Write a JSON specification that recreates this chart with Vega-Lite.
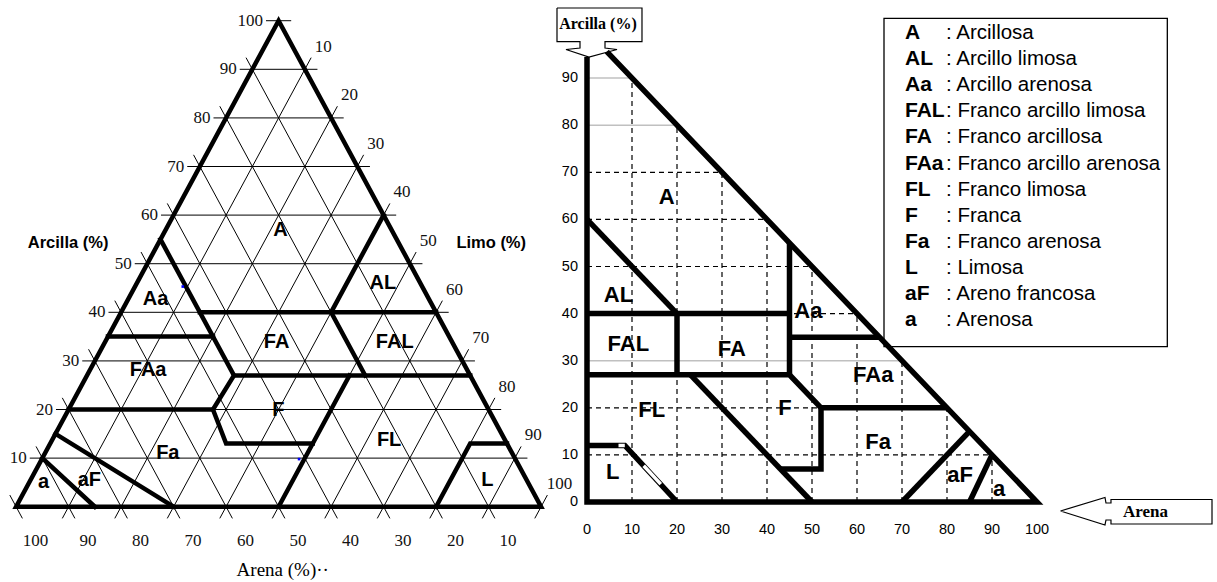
{
  "$schema": "https://vega.github.io/schema/vega-lite/v6.json",
  "width": 1217,
  "height": 582,
  "autosize": {"type": "fit", "contains": "padding"},
  "padding": 0,
  "background": "#ffffff",
  "config": {"view": {"stroke": null}},
  "datasets": {
    "tgrid": [
      {"s1": 92.4, "c1": 10, "s2": -2.4, "c2": 10},
      {"s1": 82.4, "c1": 20, "s2": -2.4, "c2": 20},
      {"s1": 72.4, "c1": 30, "s2": -2.4, "c2": 30},
      {"s1": 62.4, "c1": 40, "s2": -2.4, "c2": 40},
      {"s1": 52.4, "c1": 50, "s2": -2.4, "c2": 50},
      {"s1": 42.4, "c1": 60, "s2": -2.4, "c2": 60},
      {"s1": 32.4, "c1": 70, "s2": -2.4, "c2": 70},
      {"s1": 22.4, "c1": 80, "s2": -2.4, "c2": 80},
      {"s1": 12.4, "c1": 90, "s2": -2.4, "c2": 90},
      {"s1": 2.4, "c1": 100, "s2": -2.4, "c2": 100},
      {"s1": 10, "c1": -2.4, "s2": 10, "c2": 92.4},
      {"s1": 20, "c1": -2.4, "s2": 20, "c2": 82.4},
      {"s1": 30, "c1": -2.4, "s2": 30, "c2": 72.4},
      {"s1": 40, "c1": -2.4, "s2": 40, "c2": 62.4},
      {"s1": 50, "c1": -2.4, "s2": 50, "c2": 52.4},
      {"s1": 60, "c1": -2.4, "s2": 60, "c2": 42.4},
      {"s1": 70, "c1": -2.4, "s2": 70, "c2": 32.4},
      {"s1": 80, "c1": -2.4, "s2": 80, "c2": 22.4},
      {"s1": 90, "c1": -2.4, "s2": 90, "c2": 12.4},
      {"s1": 100, "c1": -2.4, "s2": 100, "c2": 2.4},
      {"s1": 92.4, "c1": -2.4, "s2": -2.4, "c2": 92.4},
      {"s1": 82.4, "c1": -2.4, "s2": -2.4, "c2": 82.4},
      {"s1": 72.4, "c1": -2.4, "s2": -2.4, "c2": 72.4},
      {"s1": 62.4, "c1": -2.4, "s2": -2.4, "c2": 62.4},
      {"s1": 52.4, "c1": -2.4, "s2": -2.4, "c2": 52.4},
      {"s1": 42.4, "c1": -2.4, "s2": -2.4, "c2": 42.4},
      {"s1": 32.4, "c1": -2.4, "s2": -2.4, "c2": 32.4},
      {"s1": 22.4, "c1": -2.4, "s2": -2.4, "c2": 22.4},
      {"s1": 12.4, "c1": -2.4, "s2": -2.4, "c2": 12.4},
      {"s1": 2.4, "c1": -2.4, "s2": -2.4, "c2": 2.4}
    ],
    "tthick": [
      {"p": "out", "o": 0, "s": 50, "c": 0},
      {"p": "out", "o": 1, "s": 0, "c": 0},
      {"p": "out", "o": 2, "s": 0, "c": 100},
      {"p": "out", "o": 3, "s": 100, "c": 0},
      {"p": "out", "o": 4, "s": 50, "c": 0},
      {"p": "b2", "o": 0, "s": 45, "c": 55},
      {"p": "b2", "o": 1, "s": 45, "c": 27},
      {"p": "b2", "o": 2, "s": 52.5, "c": 20},
      {"p": "b2", "o": 3, "s": 53.5, "c": 13},
      {"p": "b2", "o": 4, "s": 37, "c": 13},
      {"p": "b3", "o": 0, "s": 45, "c": 40},
      {"p": "b3", "o": 1, "s": 0, "c": 40},
      {"p": "b4", "o": 0, "s": 0, "c": 60},
      {"p": "b4", "o": 1, "s": 20, "c": 40},
      {"p": "b4", "o": 2, "s": 20, "c": 27},
      {"p": "b5", "o": 0, "s": 45, "c": 27},
      {"p": "b5", "o": 1, "s": 0, "c": 27},
      {"p": "b6", "o": 0, "s": 65, "c": 35},
      {"p": "b6", "o": 1, "s": 45, "c": 35},
      {"p": "b7", "o": 0, "s": 80, "c": 20},
      {"p": "b7", "o": 1, "s": 52.5, "c": 20},
      {"p": "b8", "o": 0, "s": 23, "c": 27},
      {"p": "b8", "o": 1, "s": 50, "c": 0},
      {"p": "b9", "o": 0, "s": 20, "c": 0},
      {"p": "b9", "o": 1, "s": 7, "c": 13},
      {"p": "b9", "o": 2, "s": 0, "c": 13},
      {"p": "b10", "o": 0, "s": 85, "c": 15},
      {"p": "b10", "o": 1, "s": 70, "c": 0},
      {"p": "b11", "o": 0, "s": 90, "c": 10},
      {"p": "b11", "o": 1, "s": 85, "c": 0}
    ],
    "tlab": [
      {"t": "A", "s": 21.2, "c": 56.9},
      {"t": "AL", "s": 7.1, "c": 46.1},
      {"t": "Aa", "s": 52.1, "c": 42.7},
      {"t": "FA", "s": 33.4, "c": 33.95},
      {"t": "FAL", "s": 10.9, "c": 33.95},
      {"t": "FAa", "s": 60.8, "c": 28.1},
      {"t": "F", "s": 40.1, "c": 19.9},
      {"t": "FL", "s": 22.1, "c": 13.7},
      {"t": "Fa", "s": 65.6, "c": 11.0},
      {"t": "L", "s": 7.5, "c": 5.5},
      {"t": "a", "s": 92.2, "c": 5.1},
      {"t": "aF", "s": 83.3, "c": 5.5}
    ],
    "tticks": [
      {"a": "c", "k": 10, "s": 92.4, "c": 10},
      {"a": "c", "k": 20, "s": 82.4, "c": 20},
      {"a": "c", "k": 30, "s": 72.4, "c": 30},
      {"a": "c", "k": 40, "s": 62.4, "c": 40},
      {"a": "c", "k": 50, "s": 52.4, "c": 50},
      {"a": "c", "k": 60, "s": 42.4, "c": 60},
      {"a": "c", "k": 70, "s": 32.4, "c": 70},
      {"a": "c", "k": 80, "s": 22.4, "c": 80},
      {"a": "c", "k": 90, "s": 12.4, "c": 90},
      {"a": "c", "k": 100, "s": 2.4, "c": 100},
      {"a": "s", "k": 10, "s": 10, "c": -2.4},
      {"a": "s", "k": 20, "s": 20, "c": -2.4},
      {"a": "s", "k": 30, "s": 30, "c": -2.4},
      {"a": "s", "k": 40, "s": 40, "c": -2.4},
      {"a": "s", "k": 50, "s": 50, "c": -2.4},
      {"a": "s", "k": 60, "s": 60, "c": -2.4},
      {"a": "s", "k": 70, "s": 70, "c": -2.4},
      {"a": "s", "k": 80, "s": 80, "c": -2.4},
      {"a": "s", "k": 90, "s": 90, "c": -2.4},
      {"a": "s", "k": 100, "s": 100, "c": -2.4},
      {"a": "t", "k": 10, "s": -2.4, "c": 92.4},
      {"a": "t", "k": 20, "s": -2.4, "c": 82.4},
      {"a": "t", "k": 30, "s": -2.4, "c": 72.4},
      {"a": "t", "k": 40, "s": -2.4, "c": 62.4},
      {"a": "t", "k": 50, "s": -2.4, "c": 52.4},
      {"a": "t", "k": 60, "s": -2.4, "c": 42.4},
      {"a": "t", "k": 70, "s": -2.4, "c": 32.4},
      {"a": "t", "k": 80, "s": -2.4, "c": 22.4},
      {"a": "t", "k": 90, "s": -2.4, "c": 12.4},
      {"a": "t", "k": 100, "s": -2.4, "c": 2.4}
    ],
    "ttitles": [
      {"t": "Arcilla (%)", "tx": 9.9, "ty": 54.3},
      {"t": "Limo (%)", "tx": 90.5, "ty": 54.3}
    ],
    "tarena": [
      {"t": "Arena (%)··", "tx": 42.0, "ty": -13.0}
    ],
    "tdots": [
      {"s": 41.2, "c": 9.8},
      {"s": 45.6, "c": 45.3}
    ],
    "rgrid": [
      {"k": "d", "x1": 10, "y1": 0, "x2": 10, "y2": 90},
      {"k": "d", "x1": 20, "y1": 0, "x2": 20, "y2": 80},
      {"k": "d", "x1": 30, "y1": 0, "x2": 30, "y2": 70},
      {"k": "d", "x1": 40, "y1": 0, "x2": 40, "y2": 60},
      {"k": "d", "x1": 50, "y1": 0, "x2": 50, "y2": 50},
      {"k": "d", "x1": 60, "y1": 0, "x2": 60, "y2": 40},
      {"k": "d", "x1": 70, "y1": 0, "x2": 70, "y2": 30},
      {"k": "d", "x1": 80, "y1": 0, "x2": 80, "y2": 20},
      {"k": "d", "x1": 90, "y1": 0, "x2": 90, "y2": 10},
      {"k": "d", "x1": 0, "y1": 10, "x2": 90, "y2": 10},
      {"k": "d", "x1": 0, "y1": 20, "x2": 80, "y2": 20},
      {"k": "d", "x1": 0, "y1": 40, "x2": 60, "y2": 40},
      {"k": "d", "x1": 0, "y1": 50, "x2": 50, "y2": 50},
      {"k": "d", "x1": 0, "y1": 60, "x2": 40, "y2": 60},
      {"k": "d", "x1": 0, "y1": 70, "x2": 30, "y2": 70},
      {"k": "g", "x1": 0, "y1": 30, "x2": 70, "y2": 30},
      {"k": "g", "x1": 0, "y1": 80, "x2": 20, "y2": 80},
      {"k": "g", "x1": 0, "y1": 90, "x2": 10, "y2": 90}
    ],
    "rthick": [
      {"p": "out", "o": 0, "x": 0, "y": 94.5},
      {"p": "out", "o": 1, "x": 0, "y": 0},
      {"p": "out", "o": 2, "x": 100, "y": 0},
      {"p": "out", "o": 3, "x": 4.4, "y": 95.6},
      {"p": "p2", "o": 0, "x": 0, "y": 60},
      {"p": "p2", "o": 1, "x": 20, "y": 40},
      {"p": "p3", "o": 0, "x": 0, "y": 40},
      {"p": "p3", "o": 1, "x": 45, "y": 40},
      {"p": "p4", "o": 0, "x": 20, "y": 40},
      {"p": "p4", "o": 1, "x": 20, "y": 27},
      {"p": "p5", "o": 0, "x": 0, "y": 27},
      {"p": "p5", "o": 1, "x": 45, "y": 27},
      {"p": "p5", "o": 2, "x": 52, "y": 20},
      {"p": "p5", "o": 3, "x": 80, "y": 20},
      {"p": "p6", "o": 0, "x": 45, "y": 55},
      {"p": "p6", "o": 1, "x": 45, "y": 27},
      {"p": "p7", "o": 0, "x": 52, "y": 20},
      {"p": "p7", "o": 1, "x": 52, "y": 7},
      {"p": "p7", "o": 2, "x": 43, "y": 7},
      {"p": "p8", "o": 0, "x": 45, "y": 35},
      {"p": "p8", "o": 1, "x": 65, "y": 35},
      {"p": "p9", "o": 0, "x": 23, "y": 27},
      {"p": "p9", "o": 1, "x": 50, "y": 0},
      {"p": "pL", "o": 0, "x": 0, "y": 12},
      {"p": "pL", "o": 1, "x": 8.4, "y": 12},
      {"p": "pL", "o": 2, "x": 20, "y": 0},
      {"p": "p11", "o": 0, "x": 70, "y": 0},
      {"p": "p11", "o": 1, "x": 85, "y": 15},
      {"p": "p12", "o": 0, "x": 85, "y": 0},
      {"p": "p12", "o": 1, "x": 90, "y": 10}
    ],
    "rwhite": [
      {"x1": 7, "y1": 12, "x2": 8.4, "y2": 12},
      {"x1": 12.6, "y1": 7.7, "x2": 16.4, "y2": 3.8}
    ],
    "rlab": [
      {"t": "A", "x": 17.7, "y": 64.8},
      {"t": "AL", "x": 7.0, "y": 43.9},
      {"t": "FAL", "x": 9.2, "y": 33.5},
      {"t": "FA", "x": 32.2, "y": 32.4},
      {"t": "Aa", "x": 49.2, "y": 40.6},
      {"t": "FAa", "x": 63.6, "y": 27.0},
      {"t": "F", "x": 44.0, "y": 20.0},
      {"t": "FL", "x": 14.4, "y": 19.5},
      {"t": "Fa", "x": 64.7, "y": 12.8},
      {"t": "L", "x": 5.7, "y": 6.3},
      {"t": "aF", "x": 82.9, "y": 5.7},
      {"t": "a", "x": 91.6, "y": 2.8}
    ],
    "rxticks": [
      {"v": 0}, {"v": 10}, {"v": 20}, {"v": 30}, {"v": 40}, {"v": 50},
      {"v": 60}, {"v": 70}, {"v": 80}, {"v": 90}, {"v": 100}
    ],
    "ryticks": [
      {"v": 0}, {"v": 10}, {"v": 20}, {"v": 30}, {"v": 40}, {"v": 50},
      {"v": 60}, {"v": 70}, {"v": 80}, {"v": 90}
    ],
    "callout": [
      {"g": "arc", "o": 0, "x": -6.667, "y": 104.88},
      {"g": "arc", "o": 1, "x": 12.22, "y": 104.88},
      {"g": "arc", "o": 2, "x": 12.22, "y": 97.73},
      {"g": "arc", "o": 3, "x": 4.0, "y": 97.73},
      {"g": "arc", "o": 4, "x": 4.0, "y": 96.39},
      {"g": "arc", "o": 5, "x": 6.667, "y": 96.07},
      {"g": "arc", "o": 6, "x": 0.444, "y": 94.48},
      {"g": "arc", "o": 7, "x": -4.667, "y": 96.07},
      {"g": "arc", "o": 8, "x": -1.556, "y": 96.39},
      {"g": "arc", "o": 9, "x": -1.556, "y": 97.73},
      {"g": "arc", "o": 10, "x": -6.667, "y": 97.73},
      {"g": "arc", "o": 11, "x": -6.667, "y": 104.88},
      {"g": "are", "o": 0, "x": 105.22, "y": -1.91},
      {"g": "are", "o": 1, "x": 115.11, "y": 0.96},
      {"g": "are", "o": 2, "x": 115.33, "y": -0.21},
      {"g": "are", "o": 3, "x": 116.44, "y": -0.21},
      {"g": "are", "o": 4, "x": 116.44, "y": 0.53},
      {"g": "are", "o": 5, "x": 138.89, "y": 0.53},
      {"g": "are", "o": 6, "x": 138.89, "y": -4.67},
      {"g": "are", "o": 7, "x": 116.44, "y": -4.67},
      {"g": "are", "o": 8, "x": 116.44, "y": -3.82},
      {"g": "are", "o": 9, "x": 115.33, "y": -3.82},
      {"g": "are", "o": 10, "x": 115.11, "y": -4.88},
      {"g": "are", "o": 11, "x": 105.22, "y": -1.91}
    ],
    "callText": [
      {"t": "Arcilla (%)", "x": 2.44, "y": 101.5, "al": "center"},
      {"t": "Arena", "x": 119.1, "y": -2.06, "al": "left"}
    ],
    "legendBox": [
      {"x1": 66.0, "y1": 102.7, "x2": 128.96, "y2": 32.97}
    ],
    "legend": [
      {"ab": "A", "de": ": Arcillosa", "x": 70.67, "xd": 79.78, "y": 99.51},
      {"ab": "AL", "de": ": Arcillo limosa", "x": 70.67, "xd": 79.78, "y": 93.97},
      {"ab": "Aa", "de": ": Arcillo arenosa", "x": 70.67, "xd": 79.78, "y": 88.45},
      {"ab": "FAL", "de": ": Franco arcillo limosa", "x": 70.67, "xd": 79.78, "y": 82.91},
      {"ab": "FA", "de": ": Franco arcillosa", "x": 70.67, "xd": 79.78, "y": 77.39},
      {"ab": "FAa", "de": ": Franco arcillo arenosa", "x": 70.67, "xd": 79.78, "y": 71.85},
      {"ab": "FL", "de": ": Franco limosa", "x": 70.67, "xd": 79.78, "y": 66.31},
      {"ab": "F", "de": ": Franca", "x": 70.67, "xd": 79.78, "y": 60.79},
      {"ab": "Fa", "de": ": Franco arenosa", "x": 70.67, "xd": 79.78, "y": 55.24},
      {"ab": "L", "de": ": Limosa", "x": 70.67, "xd": 79.78, "y": 49.72},
      {"ab": "aF", "de": ": Areno francosa", "x": 70.67, "xd": 79.78, "y": 44.18},
      {"ab": "a", "de": ": Arenosa", "x": 70.67, "xd": 79.78, "y": 38.64}
    ]
  },
  "layer": [
    {
      "layer": [
        {
          "data": {"name": "tgrid"},
          "transform": [
            {"calculate": "100 - datum.s1 - datum.c1 / 2", "as": "x1"},
            {"calculate": "100 - datum.s2 - datum.c2 / 2", "as": "x2"}
          ],
          "mark": {"type": "rule", "stroke": "#000000", "strokeWidth": 1},
          "encoding": {
            "x": {"field": "x1", "type": "quantitative", "scale": {"domain": [-3.067, 228.75], "nice": false, "zero": false}, "axis": null},
            "y": {"field": "c1", "type": "quantitative", "scale": {"domain": [-15.49, 104.26], "nice": false, "zero": false}, "axis": null},
            "x2": {"field": "x2"},
            "y2": {"field": "c2"}
          }
        },
        {
          "data": {"name": "tthick"},
          "transform": [{"calculate": "100 - datum.s - datum.c / 2", "as": "tx"}],
          "mark": {"type": "line", "stroke": "#000000", "strokeWidth": 4.5, "strokeJoin": "miter", "strokeCap": "square"},
          "encoding": {
            "x": {"field": "tx", "type": "quantitative", "scale": {"domain": [-3.067, 228.75], "nice": false, "zero": false}, "axis": null},
            "y": {"field": "c", "type": "quantitative", "scale": {"domain": [-15.49, 104.26], "nice": false, "zero": false}, "axis": null},
            "detail": {"field": "p"},
            "order": {"field": "o", "type": "quantitative"}
          }
        },
        {
          "data": {"name": "tdots"},
          "transform": [{"calculate": "100 - datum.s - datum.c / 2", "as": "tx"}],
          "mark": {"type": "square", "color": "#0000ff", "size": 7, "opacity": 1},
          "encoding": {
            "x": {"field": "tx", "type": "quantitative", "scale": {"domain": [-3.067, 228.75], "nice": false, "zero": false}, "axis": null},
            "y": {"field": "c", "type": "quantitative", "scale": {"domain": [-15.49, 104.26], "nice": false, "zero": false}, "axis": null}
          }
        },
        {
          "data": {"name": "tlab"},
          "transform": [{"calculate": "100 - datum.s - datum.c / 2", "as": "tx"}],
          "mark": {"type": "text", "font": "Liberation Sans", "fontWeight": "bold", "fontSize": 20, "align": "center", "baseline": "middle", "color": "#000000"},
          "encoding": {
            "x": {"field": "tx", "type": "quantitative", "scale": {"domain": [-3.067, 228.75], "nice": false, "zero": false}, "axis": null},
            "y": {"field": "c", "type": "quantitative", "scale": {"domain": [-15.49, 104.26], "nice": false, "zero": false}, "axis": null},
            "text": {"field": "t"}
          }
        },
        {
          "data": {"name": "tticks"},
          "transform": [{"filter": "datum.a === 'c'"}, {"calculate": "100 - datum.s - datum.c / 2", "as": "tx"}],
          "mark": {"type": "text", "font": "Liberation Serif", "fontSize": 17, "align": "right", "baseline": "middle", "dx": -3, "color": "#111111"},
          "encoding": {
            "x": {"field": "tx", "type": "quantitative", "scale": {"domain": [-3.067, 228.75], "nice": false, "zero": false}, "axis": null},
            "y": {"field": "c", "type": "quantitative", "scale": {"domain": [-15.49, 104.26], "nice": false, "zero": false}, "axis": null},
            "text": {"field": "k", "type": "quantitative", "format": "d"}
          }
        },
        {
          "data": {"name": "tticks"},
          "transform": [{"filter": "datum.a === 's'"}, {"calculate": "100 - datum.s - datum.c / 2", "as": "tx"}],
          "mark": {"type": "text", "font": "Liberation Serif", "fontSize": 17, "align": "center", "baseline": "middle", "dx": 13, "dy": 23, "color": "#111111"},
          "encoding": {
            "x": {"field": "tx", "type": "quantitative", "scale": {"domain": [-3.067, 228.75], "nice": false, "zero": false}, "axis": null},
            "y": {"field": "c", "type": "quantitative", "scale": {"domain": [-15.49, 104.26], "nice": false, "zero": false}, "axis": null},
            "text": {"field": "k", "type": "quantitative", "format": "d"}
          }
        },
        {
          "data": {"name": "tticks"},
          "transform": [{"filter": "datum.a === 't'"}, {"calculate": "100 - datum.s - datum.c / 2", "as": "tx"}],
          "mark": {"type": "text", "font": "Liberation Serif", "fontSize": 17, "align": "center", "baseline": "middle", "dx": 12, "dy": -11, "color": "#111111"},
          "encoding": {
            "x": {"field": "tx", "type": "quantitative", "scale": {"domain": [-3.067, 228.75], "nice": false, "zero": false}, "axis": null},
            "y": {"field": "c", "type": "quantitative", "scale": {"domain": [-15.49, 104.26], "nice": false, "zero": false}, "axis": null},
            "text": {"field": "k", "type": "quantitative", "format": "d"}
          }
        },
        {
          "data": {"name": "ttitles"},
          "mark": {"type": "text", "font": "Liberation Sans", "fontWeight": "bold", "fontSize": 16.5, "align": "center", "baseline": "middle", "color": "#000000"},
          "encoding": {
            "x": {"field": "tx", "type": "quantitative", "scale": {"domain": [-3.067, 228.75], "nice": false, "zero": false}, "axis": null},
            "y": {"field": "ty", "type": "quantitative", "scale": {"domain": [-15.49, 104.26], "nice": false, "zero": false}, "axis": null},
            "text": {"field": "t"}
          }
        },
        {
          "data": {"name": "tarena"},
          "mark": {"type": "text", "font": "Liberation Serif", "fontSize": 19, "align": "left", "baseline": "middle", "color": "#000000"},
          "encoding": {
            "x": {"field": "tx", "type": "quantitative", "scale": {"domain": [-3.067, 228.75], "nice": false, "zero": false}, "axis": null},
            "y": {"field": "ty", "type": "quantitative", "scale": {"domain": [-15.49, 104.26], "nice": false, "zero": false}, "axis": null},
            "text": {"field": "t"}
          }
        }
      ]
    },
    {
      "layer": [
        {
          "data": {"name": "rgrid"},
          "transform": [{"filter": "datum.k === 'd'"}],
          "mark": {"type": "rule", "stroke": "#000000", "strokeWidth": 1.2, "strokeDash": [5, 4]},
          "encoding": {
            "x": {"field": "x1", "type": "quantitative", "scale": {"domain": [-130.444, 140], "nice": false, "zero": false}, "axis": null},
            "y": {"field": "y1", "type": "quantitative", "scale": {"domain": [-16.985, 106.582], "nice": false, "zero": false}, "axis": null},
            "x2": {"field": "x2"},
            "y2": {"field": "y2"}
          }
        },
        {
          "data": {"name": "rgrid"},
          "transform": [{"filter": "datum.k === 'g'"}],
          "mark": {"type": "rule", "stroke": "#c0c0c0", "strokeWidth": 1.5},
          "encoding": {
            "x": {"field": "x1", "type": "quantitative", "scale": {"domain": [-130.444, 140], "nice": false, "zero": false}, "axis": null},
            "y": {"field": "y1", "type": "quantitative", "scale": {"domain": [-16.985, 106.582], "nice": false, "zero": false}, "axis": null},
            "x2": {"field": "x2"},
            "y2": {"field": "y2"}
          }
        },
        {
          "data": {"name": "legendBox"},
          "mark": {"type": "rect", "fill": null, "fillOpacity": 0, "stroke": "#000000", "strokeWidth": 1.3},
          "encoding": {
            "x": {"field": "x1", "type": "quantitative", "scale": {"domain": [-130.444, 140], "nice": false, "zero": false}, "axis": null},
            "y": {"field": "y1", "type": "quantitative", "scale": {"domain": [-16.985, 106.582], "nice": false, "zero": false}, "axis": null},
            "x2": {"field": "x2"},
            "y2": {"field": "y2"}
          }
        },
        {
          "data": {"name": "rthick"},
          "mark": {"type": "line", "stroke": "#000000", "strokeWidth": 5.5, "strokeJoin": "miter", "strokeCap": "butt"},
          "encoding": {
            "x": {"field": "x", "type": "quantitative", "scale": {"domain": [-130.444, 140], "nice": false, "zero": false}, "axis": null},
            "y": {"field": "y", "type": "quantitative", "scale": {"domain": [-16.985, 106.582], "nice": false, "zero": false}, "axis": null},
            "detail": {"field": "p"},
            "order": {"field": "o", "type": "quantitative"}
          }
        },
        {
          "data": {"name": "rwhite"},
          "mark": {"type": "rule", "stroke": "#ffffff", "strokeWidth": 3.5},
          "encoding": {
            "x": {"field": "x1", "type": "quantitative", "scale": {"domain": [-130.444, 140], "nice": false, "zero": false}, "axis": null},
            "y": {"field": "y1", "type": "quantitative", "scale": {"domain": [-16.985, 106.582], "nice": false, "zero": false}, "axis": null},
            "x2": {"field": "x2"},
            "y2": {"field": "y2"}
          }
        },
        {
          "data": {"name": "rlab"},
          "mark": {"type": "text", "font": "Liberation Sans", "fontWeight": "bold", "fontSize": 22, "align": "center", "baseline": "middle", "color": "#000000"},
          "encoding": {
            "x": {"field": "x", "type": "quantitative", "scale": {"domain": [-130.444, 140], "nice": false, "zero": false}, "axis": null},
            "y": {"field": "y", "type": "quantitative", "scale": {"domain": [-16.985, 106.582], "nice": false, "zero": false}, "axis": null},
            "text": {"field": "t"}
          }
        },
        {
          "data": {"name": "rxticks"},
          "transform": [{"calculate": "0", "as": "y0"}],
          "mark": {"type": "text", "font": "Liberation Sans", "fontSize": 14.5, "align": "center", "baseline": "middle", "dy": 28, "color": "#000000"},
          "encoding": {
            "x": {"field": "v", "type": "quantitative", "scale": {"domain": [-130.444, 140], "nice": false, "zero": false}, "axis": null},
            "y": {"field": "y0", "type": "quantitative", "scale": {"domain": [-16.985, 106.582], "nice": false, "zero": false}, "axis": null},
            "text": {"field": "v", "type": "quantitative", "format": "d"}
          }
        },
        {
          "data": {"name": "ryticks"},
          "transform": [{"calculate": "0", "as": "x0"}],
          "mark": {"type": "text", "font": "Liberation Sans", "fontSize": 14.5, "align": "right", "baseline": "middle", "dx": -9, "color": "#000000"},
          "encoding": {
            "x": {"field": "x0", "type": "quantitative", "scale": {"domain": [-130.444, 140], "nice": false, "zero": false}, "axis": null},
            "y": {"field": "v", "type": "quantitative", "scale": {"domain": [-16.985, 106.582], "nice": false, "zero": false}, "axis": null},
            "text": {"field": "v", "type": "quantitative", "format": "d"}
          }
        },
        {
          "data": {"name": "callout"},
          "mark": {"type": "line", "stroke": "#000000", "strokeWidth": 1.2, "strokeJoin": "miter"},
          "encoding": {
            "x": {"field": "x", "type": "quantitative", "scale": {"domain": [-130.444, 140], "nice": false, "zero": false}, "axis": null},
            "y": {"field": "y", "type": "quantitative", "scale": {"domain": [-16.985, 106.582], "nice": false, "zero": false}, "axis": null},
            "detail": {"field": "g"},
            "order": {"field": "o", "type": "quantitative"}
          }
        },
        {
          "data": {"name": "callText"},
          "transform": [{"filter": "datum.al === 'center'"}],
          "mark": {"type": "text", "font": "Liberation Serif", "fontWeight": "bold", "fontSize": 16, "align": "center", "baseline": "middle", "color": "#000000"},
          "encoding": {
            "x": {"field": "x", "type": "quantitative", "scale": {"domain": [-130.444, 140], "nice": false, "zero": false}, "axis": null},
            "y": {"field": "y", "type": "quantitative", "scale": {"domain": [-16.985, 106.582], "nice": false, "zero": false}, "axis": null},
            "text": {"field": "t"}
          }
        },
        {
          "data": {"name": "callText"},
          "transform": [{"filter": "datum.al === 'left'"}],
          "mark": {"type": "text", "font": "Liberation Serif", "fontWeight": "bold", "fontSize": 17, "align": "left", "baseline": "middle", "color": "#000000"},
          "encoding": {
            "x": {"field": "x", "type": "quantitative", "scale": {"domain": [-130.444, 140], "nice": false, "zero": false}, "axis": null},
            "y": {"field": "y", "type": "quantitative", "scale": {"domain": [-16.985, 106.582], "nice": false, "zero": false}, "axis": null},
            "text": {"field": "t"}
          }
        },
        {
          "data": {"name": "legend"},
          "mark": {"type": "text", "font": "Liberation Sans", "fontWeight": "bold", "fontSize": 21, "align": "left", "baseline": "middle", "color": "#000000"},
          "encoding": {
            "x": {"field": "x", "type": "quantitative", "scale": {"domain": [-130.444, 140], "nice": false, "zero": false}, "axis": null},
            "y": {"field": "y", "type": "quantitative", "scale": {"domain": [-16.985, 106.582], "nice": false, "zero": false}, "axis": null},
            "text": {"field": "ab"}
          }
        },
        {
          "data": {"name": "legend"},
          "mark": {"type": "text", "font": "Liberation Sans", "fontSize": 20.5, "align": "left", "baseline": "middle", "color": "#000000"},
          "encoding": {
            "x": {"field": "xd", "type": "quantitative", "scale": {"domain": [-130.444, 140], "nice": false, "zero": false}, "axis": null},
            "y": {"field": "y", "type": "quantitative", "scale": {"domain": [-16.985, 106.582], "nice": false, "zero": false}, "axis": null},
            "text": {"field": "de"}
          }
        }
      ]
    }
  ],
  "resolve": {"scale": {"x": "independent", "y": "independent"}}
}
